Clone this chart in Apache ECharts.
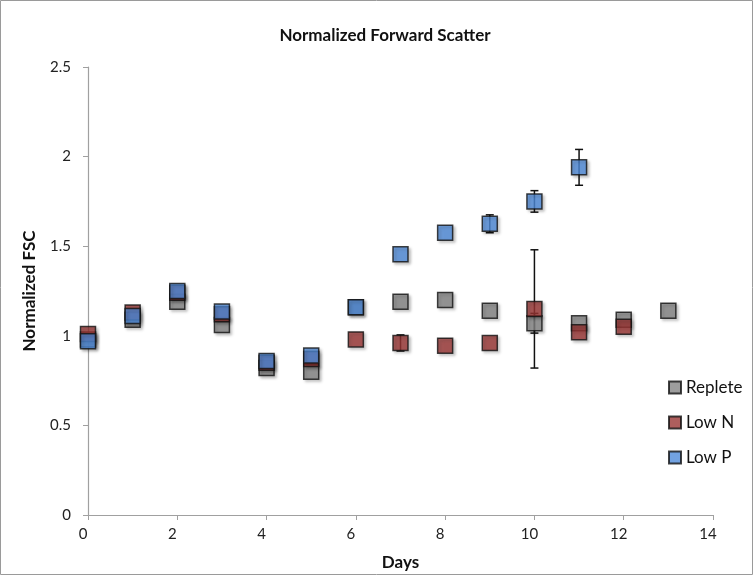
<!DOCTYPE html>
<html>
<head>
<meta charset="utf-8">
<script src="https://cdn.jsdelivr.net/npm/echarts@6/dist/echarts.min.js"></script>
<style>
html,body{margin:0;padding:0;background:#fff;}
#chart{width:754px;height:576px;}
</style>
</head>
<body>
<div id="chart"></div>
<script>
// ---- data ----
const days = [0,1,2,3,4,5,6,7,8,9,10,11,12,13];
const xTicks = [0,2,4,6,8,10,12,14];
const yTicks = [0,0.5,1,1.5,2,2.5];
const replete    = [0.98,1.09,1.19,1.06,0.82,0.80,1.16,1.19,1.20,1.14,1.07,1.07,1.09,1.14];
const repleteErr = [0,0,0,0,0,0,0,0,0,0,0.055,0,0,0];
const lowN       = [1.01,1.13,1.24,1.12,0.85,0.87,0.98,0.96,0.945,0.96,1.15,1.02,1.05];
const lowNErr    = [0,0,0,0,0,0,0,0.045,0,0,0.33,0,0];
const lowP       = [0.97,1.11,1.25,1.135,0.86,0.89,1.16,1.455,1.575,1.625,1.75,1.94];
const lowPErr    = [0,0,0,0,0,0,0,0,0,0.05,0.06,0.10];
const seriesNames = ['Replete','Low N','Low P'];
const colors = ['#858585','#9a3634','#4f8bd9'];

function pts(vals){ return vals.map((v,i)=>[days[i], v]); }
function errPts(vals, errs){ return vals.map((v,i)=>[days[i], v, errs[i]]).filter(d=>d[2]>0); }

function errSeries(vals, errs){
  return {
    type:'custom', silent:true, z:0, zlevel:0,
    data: errPts(vals, errs),
    renderItem: function(params, api){
      const x = api.value(0), y = api.value(1), e = api.value(2);
      const top = api.coord([x, y+e]);
      const bot = api.coord([x, y-e]);
      const hw = 4;
      const st = {stroke:'#111', lineWidth:1.5};
      return {type:'group', children:[
        {type:'line', z2:0, shape:{x1:top[0],y1:top[1],x2:bot[0],y2:bot[1]}, style:st},
        {type:'line', z2:0, shape:{x1:top[0]-hw,y1:top[1],x2:top[0]+hw,y2:top[1]}, style:st},
        {type:'line', z2:0, shape:{x1:bot[0]-hw,y1:bot[1],x2:bot[0]+hw,y2:bot[1]}, style:st}
      ]};
    }
  };
}

function scatter(name, vals, color, z){
  return {
    name:name, type:'scatter', symbol:'rect', symbolSize:15, z:z, zlevel:0,
    data: pts(vals),
    itemStyle:{color:color, borderColor:'#111', borderWidth:1.5,
      shadowBlur:3, shadowOffsetX:2, shadowOffsetY:2, shadowColor:'rgba(0,0,0,0.3)'},
    emphasis:{disabled:true}
  };
}

const chart = echarts.init(document.getElementById('chart'), null, {renderer:'canvas'});
const font = 'Lato, "Open Sans", sans-serif';
chart.setOption({
  animation:false,
  textStyle:{fontFamily:font},
  graphic:[{type:'rect', shape:{x:0.5,y:0.5,width:752,height:574},
    style:{fill:'none', stroke:'#9a9a9a', lineWidth:1}, silent:true}],
  title:{text:'Normalized Forward Scatter', left:380, top:22, textAlign:'center',
    textStyle:{fontSize:17, fontWeight:'bold', color:'#111', fontFamily:font}},
  legend:{
    orient:'vertical', left:663, top:374, itemGap:18, itemWidth:12, itemHeight:12,
    icon:'rect', data:seriesNames,
    textStyle:{fontSize:17, color:'#111', fontFamily:font}
  },
  grid:{left:88, right:41, top:67, bottom:61, containLabel:false},
  xAxis:{
    type:'value', min:0, max:14, interval:2,
    name:'Days', nameLocation:'middle', nameGap:39,
    nameTextStyle:{fontSize:17, fontWeight:'bold', color:'#111', fontFamily:font},
    axisLine:{show:true, lineStyle:{color:'#a0a0a0', width:1.2}},
    axisTick:{show:true, length:5, lineStyle:{color:'#a0a0a0'}},
    axisLabel:{fontSize:15, color:'#222', margin:12, padding:[0,10,0,0], fontFamily:font,
      formatter:v=>xTicks.includes(v)?String(v):''},
    splitLine:{show:false}
  },
  yAxis:{
    type:'value', min:0, max:2.5, interval:0.5,
    name:'Normalized FSC', nameLocation:'middle', nameGap:50, nameRotate:90,
    nameTextStyle:{fontSize:17, fontWeight:'bold', color:'#111', fontFamily:font},
    axisLine:{show:true, lineStyle:{color:'#a0a0a0', width:1.2}},
    axisTick:{show:true, length:5, lineStyle:{color:'#a0a0a0'}},
    axisLabel:{fontSize:15, color:'#222', margin:17, fontFamily:font,
      formatter:v=>yTicks.includes(v)?String(v):''},
    splitLine:{show:false}
  },
  series:[
    errSeries(replete, repleteErr),
    errSeries(lowN, lowNErr),
    errSeries(lowP, lowPErr),
    scatter(seriesNames[0], replete, colors[0], 10),
    scatter(seriesNames[1], lowN, colors[1], 11),
    scatter(seriesNames[2], lowP, colors[2], 12)
  ]
});
</script>
</body>
</html>
